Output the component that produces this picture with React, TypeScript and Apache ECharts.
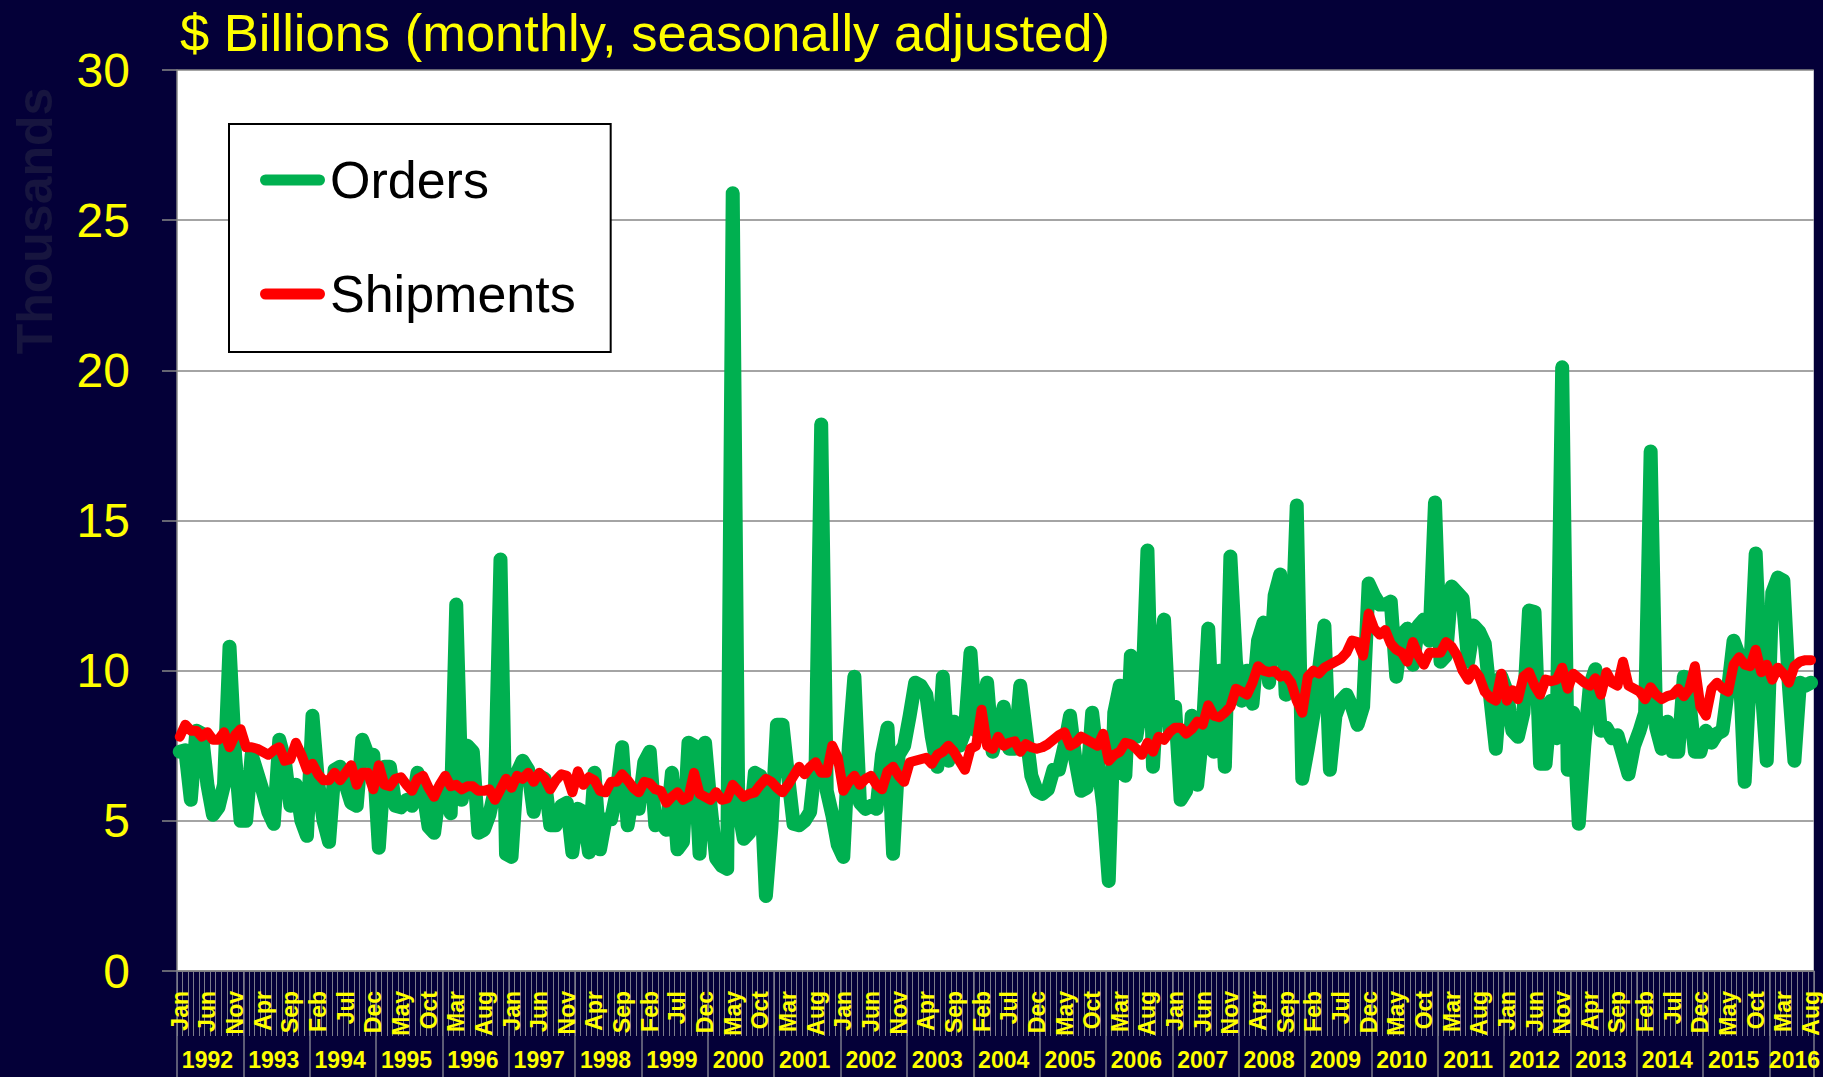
import React, { useEffect, useRef } from "react";
import * as echarts from "echarts";

const MONTH_NAMES = ["Jan", "Feb", "Mar", "Apr", "May", "Jun", "Jul", "Aug", "Sep", "Oct", "Nov", "Dec"];
const START_YEAR = 1992;
const MONTH_COUNT = 296; // Jan 1992 .. Aug 2016

const CATEGORIES: string[] = [];
for (let i = 0; i < MONTH_COUNT; i++) {
  CATEGORIES.push(MONTH_NAMES[i % 12] + "-" + (START_YEAR + Math.floor(i / 12)));
}

const TITLE = "$ Billions (monthly, seasonally adjusted)";
const Y_NAME = "Thousands";

// Orders (green), one row per year
const ORDERS: number[] = [
  7.3, 7.35, 5.7, 8.0, 7.9, 6.2, 5.2, 5.45, 6.2, 10.8, 7.2, 5.0, // 1992
  5.0, 7.2, 6.6, 6.0, 5.3, 4.9, 7.7, 7.0, 5.5, 6.2, 5.0, 4.5, // 1993
  8.5, 6.3, 5.0, 4.3, 6.7, 6.8, 6.2, 5.6, 5.5, 7.7, 7.2, 7.2, // 1994
  4.1, 6.8, 6.8, 5.5, 5.45, 5.7, 5.5, 6.6, 6.0, 4.8, 4.6, 6.05, // 1995
  6.0, 5.25, 12.2, 5.7, 7.5, 7.3, 4.6, 4.7, 5.2, 6.05, 13.7, 3.9, // 1996
  3.8, 6.6, 7.0, 6.7, 5.3, 6.5, 6.4, 4.85, 4.85, 5.5, 5.6, 3.95, // 1997
  5.4, 5.3, 3.95, 6.6, 4.05, 5.05, 5.05, 5.95, 7.45, 4.85, 5.95, 5.4, // 1998
  6.95, 7.3, 4.85, 4.95, 4.7, 6.6, 4.05, 4.3, 7.6, 7.5, 3.9, 7.6, // 1999
  5.5, 3.75, 3.5, 3.4, 25.9, 5.45, 4.4, 4.6, 6.6, 6.5, 2.5, 4.8, // 2000
  8.2, 8.2, 6.5, 4.9, 4.85, 5.0, 5.3, 7.0, 18.2, 6.0, 5.2, 4.2, // 2001
  3.8, 7.5, 9.8, 5.6, 5.4, 5.5, 5.4, 7.2, 8.1, 3.9, 7.2, 7.5, // 2002
  8.5, 9.6, 9.5, 9.2, 7.8, 6.8, 9.8, 7.0, 8.3, 7.5, 8.0, 10.6, // 2003
  8.0, 8.3, 9.6, 7.3, 8.0, 8.8, 7.4, 7.4, 9.5, 8.0, 6.5, 6.0, // 2004
  5.9, 6.05, 6.7, 6.7, 7.5, 8.5, 7.0, 6.0, 6.1, 8.6, 7.0, 5.5, // 2005
  3.0, 8.6, 9.5, 6.5, 10.5, 7.8, 9.0, 14.0, 6.8, 10.0, 11.7, 8.0, // 2006
  8.8, 5.7, 6.0, 8.5, 6.2, 8.0, 11.4, 7.3, 10.0, 6.8, 13.8, 10.3, // 2007
  9.0, 10.0, 8.9, 11.0, 11.6, 9.6, 12.5, 13.2, 9.2, 10.5, 15.5, 6.4, // 2008
  7.4, 8.5, 10.0, 11.5, 6.7, 8.5, 9.0, 9.2, 8.8, 8.2, 8.8, 12.9, // 2009
  12.5, 12.2, 12.2, 12.3, 9.8, 11.2, 11.4, 10.2, 11.5, 11.7, 11.0, 15.6, // 2010
  10.3, 10.5, 12.8, 12.6, 12.4, 10.3, 11.5, 11.3, 10.9, 9.1, 7.4, 9.8, // 2011
  9.3, 8.0, 7.8, 8.6, 12.0, 11.95, 6.9, 6.9, 9.0, 7.75, 20.1, 6.7, // 2012
  8.6, 4.9, 7.5, 9.5, 10.05, 8.0, 8.1, 7.75, 7.85, 7.2, 6.55, 7.5, // 2013
  8.0, 8.6, 17.3, 8.1, 7.4, 8.3, 7.3, 7.3, 9.8, 9.0, 7.3, 7.3, // 2014
  8.0, 7.6, 7.9, 8.0, 9.4, 11.0, 10.5, 6.3, 10.0, 13.9, 9.6, 7.0, // 2015
  12.6, 13.1, 13.0, 9.5, 7.0, 9.6, 9.5, 9.6, // 2016
];

// Shipments (red), one row per year
const SHIPMENTS: number[] = [
  7.8, 8.2, 8.0, 8.0, 7.8, 7.95, 7.7, 7.7, 7.95, 7.45, 7.85, 8.05, // 1992
  7.45, 7.45, 7.4, 7.3, 7.2, 7.35, 7.45, 7.0, 7.05, 7.6, 7.2, 6.7, // 1993
  6.9, 6.55, 6.35, 6.35, 6.6, 6.35, 6.6, 6.85, 6.2, 6.6, 6.6, 6.05, // 1994
  6.85, 6.2, 6.15, 6.4, 6.45, 6.2, 6.0, 6.4, 6.5, 6.1, 5.8, 6.2, // 1995
  6.5, 6.15, 6.2, 6.05, 6.15, 6.15, 6.0, 6.0, 6.05, 5.7, 6.05, 6.4, // 1996
  6.1, 6.5, 6.4, 6.6, 6.3, 6.6, 6.4, 6.05, 6.35, 6.55, 6.5, 5.95, // 1997
  6.65, 6.2, 6.45, 6.35, 6.0, 5.95, 6.3, 6.3, 6.55, 6.35, 6.1, 5.95, // 1998
  6.3, 6.25, 6.05, 6.0, 5.6, 5.8, 5.95, 5.7, 5.8, 6.6, 5.9, 5.8, // 1999
  5.7, 5.95, 5.7, 5.75, 6.2, 6.0, 5.8, 5.9, 5.95, 6.2, 6.4, 6.3, // 2000
  6.1, 5.95, 6.2, 6.5, 6.8, 6.55, 6.8, 6.95, 6.6, 6.6, 7.5, 7.1, // 2001
  6.0, 6.3, 6.5, 6.2, 6.4, 6.5, 6.2, 6.05, 6.65, 6.8, 6.5, 6.3, // 2002
  6.95, 7.0, 7.05, 7.1, 6.9, 7.2, 7.3, 7.5, 7.3, 7.0, 6.7, 7.4, // 2003
  7.5, 8.7, 7.5, 7.4, 7.8, 7.5, 7.6, 7.65, 7.3, 7.55, 7.45, 7.4, // 2004
  7.45, 7.55, 7.7, 7.85, 7.95, 7.5, 7.6, 7.8, 7.7, 7.6, 7.5, 7.9, // 2005
  7.0, 7.2, 7.3, 7.6, 7.55, 7.4, 7.2, 7.6, 7.3, 7.8, 7.7, 7.95, // 2006
  8.1, 8.1, 7.9, 8.05, 8.3, 8.2, 8.85, 8.5, 8.45, 8.6, 8.8, 9.4, // 2007
  9.3, 9.2, 9.6, 10.15, 10.0, 9.95, 10.0, 9.8, 9.85, 9.6, 9.0, 8.6, // 2008
  9.8, 10.0, 9.9, 10.1, 10.2, 10.3, 10.4, 10.6, 11.0, 10.95, 10.5, 11.9, // 2009
  11.4, 11.2, 11.35, 10.9, 10.7, 10.6, 10.3, 10.95, 10.5, 10.2, 10.6, 10.6, // 2010
  10.6, 10.95, 10.8, 10.5, 10.0, 9.7, 10.05, 9.8, 9.3, 9.1, 9.0, 9.9, // 2011
  9.0, 9.35, 9.05, 9.8, 9.95, 9.5, 9.2, 9.7, 9.65, 9.7, 10.1, 9.4, // 2012
  9.9, 9.75, 9.6, 9.5, 9.75, 9.2, 9.95, 9.6, 9.5, 10.3, 9.5, 9.4, // 2013
  9.3, 9.05, 9.45, 9.2, 9.05, 9.15, 9.2, 9.4, 9.15, 9.4, 10.15, 8.8, // 2014
  8.5, 9.4, 9.6, 9.4, 9.3, 10.2, 10.45, 10.2, 10.15, 10.7, 9.95, 10.2, // 2015
  9.7, 10.1, 9.9, 9.6, 10.15, 10.3, 10.35, 10.35, // 2016
];

const Y_MIN = 0;
const Y_MAX = 30;
const Y_STEP = 5;

const FONT = 'Arial, "Liberation Sans", Helvetica, sans-serif';
const BG = "#040038";
const YELLOW = "#FFFF00";
const GRAY = "#868686";
const GREEN = "#00B050";
const RED = "#FF0000";
const CAPSULE = "path://M5.5,0 L59.5,0 A5.5,5.5 0 0 1 59.5,11 L5.5,11 A5.5,5.5 0 0 1 5.5,0 Z";

export default function App() {
  const ref = useRef<HTMLDivElement>(null);

  useEffect(() => {
    if (!ref.current) return;
    const chart = echarts.init(ref.current, undefined, { renderer: "svg" });
    const option: any = {
      animation: false,
      backgroundColor: BG,
      textStyle: { fontFamily: FONT },
      title: {
        text: TITLE,
        left: 180,
        top: 6,
        padding: 0,
        textStyle: { color: YELLOW, fontSize: 52.5, fontWeight: "normal", fontFamily: FONT },
      },
      legend: {
        orient: "vertical",
        left: 229,
        top: 124,
        padding: [26, 35, 28, 31],
        itemGap: 54,
        itemWidth: 65,
        itemHeight: 11,
        backgroundColor: "#FFFFFF",
        borderColor: "#000000",
        borderWidth: 2,
        textStyle: { color: "#000000", fontSize: 52, fontFamily: FONT, lineHeight: 60 },
        data: [
          { name: "Orders", icon: CAPSULE },
          { name: "Shipments", icon: CAPSULE },
        ],
      },
      grid: {
        left: 177,
        top: 70,
        width: 1637,
        height: 901,
        show: true,
        backgroundColor: "#FFFFFF",
        borderWidth: 0,
      },
      xAxis: [
        {
          type: "category",
          data: CATEGORIES,
          boundaryGap: true,
          position: "bottom",
          axisLine: { show: true, lineStyle: { color: GRAY, width: 1.5 } },
          axisTick: { show: true, interval: 0, length: 65, lineStyle: { color: "#7a7a8a", width: 1 } },
          axisLabel: {
            interval: 4,
            rotate: 90,
            color: YELLOW,
            fontSize: 23,
            fontWeight: "bold",
            fontFamily: FONT,
            margin: 20,
            formatter: (v: string) => v.split("-")[0],
          },
          splitLine: { show: false },
        },
        {
          type: "category",
          data: CATEGORIES,
          boundaryGap: true,
          position: "bottom",
          axisLine: { show: false },
          axisTick: {
            show: true,
            interval: (idx: number) => idx % 12 === 0,
            length: 106,
            lineStyle: { color: "#7a7a8a", width: 1.5 },
          },
          axisLabel: {
            interval: (idx: number) => idx % 12 === 5 || idx === MONTH_COUNT - 4,
            color: YELLOW,
            fontSize: 23,
            fontWeight: "bold",
            fontFamily: FONT,
            margin: 77,
            formatter: (v: string) => v.split("-")[1],
          },
          splitLine: { show: false },
        },
      ],
      yAxis: {
        type: "value",
        min: Y_MIN,
        max: Y_MAX,
        interval: Y_STEP,
        axisLine: { show: true, lineStyle: { color: GRAY, width: 1.5 } },
        axisTick: { show: true, length: 15, lineStyle: { color: GRAY, width: 1.5 } },
        axisLabel: { color: YELLOW, fontSize: 48, fontFamily: FONT, margin: 47 },
        splitLine: { show: true, lineStyle: { color: GRAY, width: 1.5 } },
      },
      graphic: [
        {
          type: "text",
          x: 35,
          y: 221,
          rotation: Math.PI / 2,
          style: {
            text: Y_NAME,
            fill: "#17153f",
            font: "bold 50px " + FONT,
            align: "center",
            verticalAlign: "middle",
            textAlign: "center",
            textVerticalAlign: "middle",
          },
        },
      ],
      series: [
        {
          name: "Orders",
          type: "line",
          data: ORDERS,
          symbol: "none",
          color: GREEN,
          itemStyle: { color: GREEN },
          lineStyle: { width: 14, color: GREEN, cap: "round", join: "round" },
          z: 2,
        },
        {
          name: "Shipments",
          type: "line",
          data: SHIPMENTS,
          symbol: "none",
          color: RED,
          itemStyle: { color: RED },
          lineStyle: { width: 10, color: RED, cap: "round", join: "round" },
          z: 3,
        },
      ],
    };
    chart.setOption(option);
    return () => chart.dispose();
  }, []);

  return (
    <div
      ref={ref}
      style={{ position: "fixed", left: 0, top: 0, width: 1823, height: 1077, background: BG }}
    />
  );
}
